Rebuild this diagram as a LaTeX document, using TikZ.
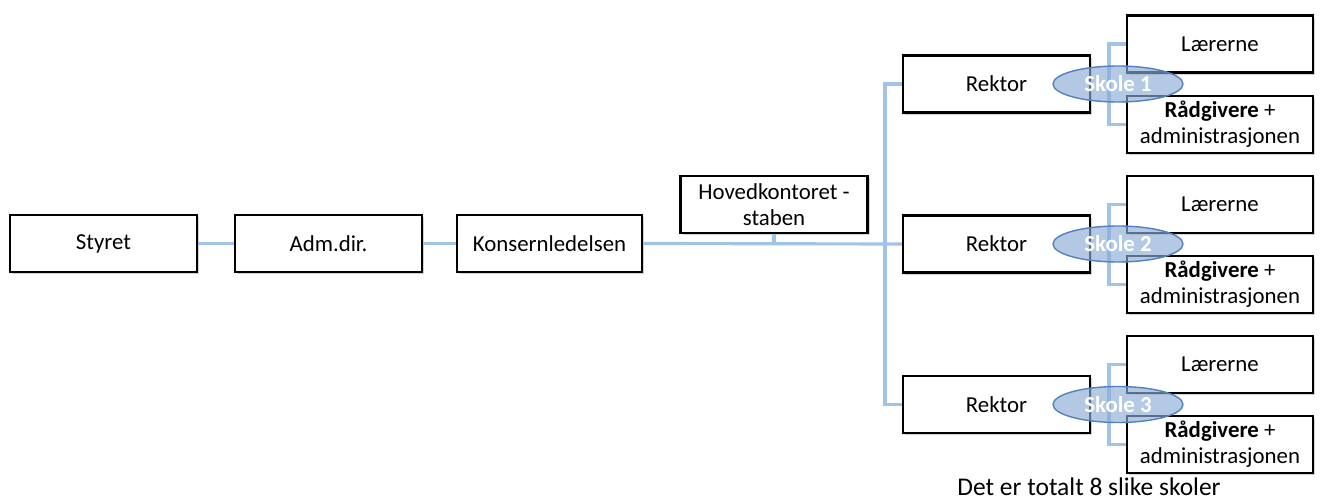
\documentclass[tikz,border=0pt]{standalone}
\usepackage{fontspec}
\setmainfont{Carlito}
\usetikzlibrary{positioning}
\usetikzlibrary{shadows}
\usetikzlibrary{shapes.geometric}
\definecolor{linkblue}{RGB}{160,196,232}
\definecolor{skolefill}{RGB}{140,172,212}
\definecolor{skoleline}{RGB}{82,130,190}
\tikzset{
    x=0.02cm, y=-0.02cm,
    every node/.append style={
        font=\fontsize{13}{15}\selectfont
    },
    unit/.style={
        draw,
        line width=1.2pt,
        fill=white,
        minimum width=3.74cm,
        minimum height=1.14cm,
        align=center,
        inner sep=1pt,
        drop shadow={shadow xshift=1.2pt, shadow yshift=-1.2pt, opacity=0.35}
    },
    link/.style={
        draw=linkblue,
        line width=1.8pt
    },
    skole/.style={
        ellipse,
        draw=skoleline,
        line width=0.8pt,
        fill=skolefill,
        fill opacity=0.65,
        text opacity=1,
        minimum width=2.6cm,
        minimum height=0.72cm,
        inner sep=0pt,
        text=white,
        font=\fontsize{13}{15}\selectfont\bfseries
    }
}

\begin{document}
\begin{tikzpicture}
    \useasboundingbox (0,0) rectangle (1320,503);

    \node[unit] (styret) at (103.5,243.5) {Styret};
    \node[unit] (adm) at (328.5,243.5) {Adm.dir.};
    \node[unit, minimum width=3.7cm] (konsern) at (549.5,243.5) {Konsernledelsen};
    \node[unit] (hoved) at (774,204.5) {Hovedkontoret -\\staben};

    \node[unit] (rektor1) at (996.5,84) {Rektor};
    \node[unit] (rektor2) at (996.5,244) {Rektor};
    \node[unit] (rektor3) at (996.5,404.5) {Rektor};

    \node[unit, minimum width=3.72cm] (laer1) at (1220,44) {Lærerne};
    \node[unit, minimum width=3.72cm] (raad1) at (1220,124.5) {\textbf{Rådgivere} +\\administrasjonen};
    \node[unit, minimum width=3.72cm] (laer2) at (1220,204.5) {Lærerne};
    \node[unit, minimum width=3.72cm] (raad2) at (1220,284.5) {\textbf{Rådgivere} +\\administrasjonen};
    \node[unit, minimum width=3.72cm] (laer3) at (1220,364.5) {Lærerne};
    \node[unit, minimum width=3.72cm] (raad3) at (1220,444.5) {\textbf{Rådgivere} +\\administrasjonen};

    \coordinate (split) at (885,244);

    \draw[link] (styret) -- (adm);
    \draw[link] (adm) -- (konsern);
    \draw[link] (konsern.east) -- (rektor2.west);
    \draw[link] (hoved.south) -- (hoved.south |- split);
    \draw[link] (rektor1.west) -| (split) |- (rektor3.west);

    \draw[link] (laer1.west) -- ++(-17,0) |- (raad1.west);
    \draw[link] (laer2.west) -- ++(-17,0) |- (raad2.west);
    \draw[link] (laer3.west) -- ++(-17,0) |- (raad3.west);

    \node[skole] (skole1) at (1118,84) {Skole 1};
    \node[skole] (skole2) at (1118,244) {Skole 2};
    \node[skole] (skole3) at (1118,404.5) {Skole 3};

    \node[font=\fontsize{14.5}{16}\selectfont] (note) at (1089,487) {Det er totalt 8 slike skoler};

\end{tikzpicture}
\end{document}
